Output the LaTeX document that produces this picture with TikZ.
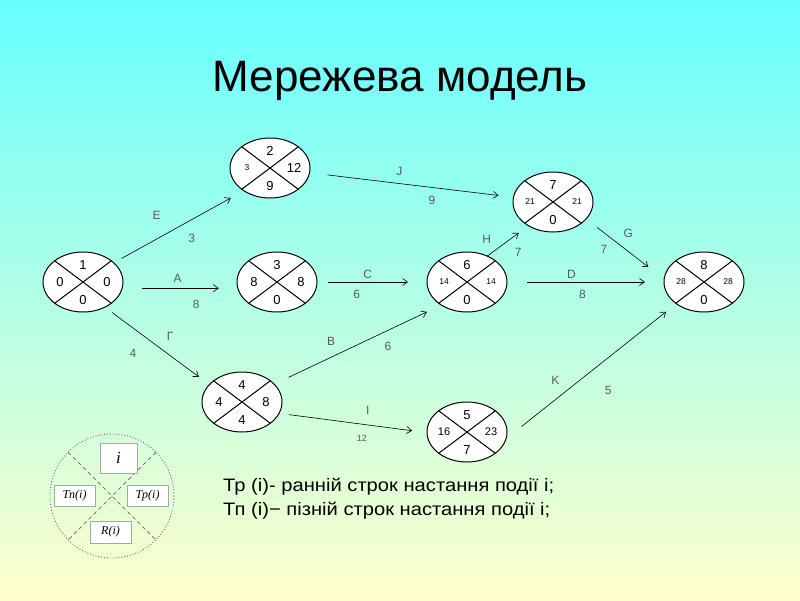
\documentclass[tikz,border=0pt]{standalone}
\usepackage{fontspec}
\setmainfont{Liberation Sans}
\newfontfamily\legendfont{Liberation Serif}
\newfontfamily\notefont[FakeStretch=1.12]{Liberation Sans}
\usetikzlibrary{arrows.meta,calc,shapes.geometric,shadows}
\definecolor{bgtop}{RGB}{102,255,255}
\definecolor{bgbottom}{RGB}{255,255,204}
\newcommand{\smallnum}[1]{{\fontsize{8.5}{9}\selectfont #1}}
\newcommand{\midnum}[1]{{\fontsize{11}{12}\selectfont #1}}

\begin{document}
\begin{tikzpicture}[
  x=1pt, y=-1pt,
  event/.style={ellipse, draw=black, line width=1pt, fill=white,
    minimum width=80pt, minimum height=60pt, inner sep=0pt, outer sep=0pt},
  quarter/.style={line width=1pt},
  num/.style={font=\fontsize{13}{14}\selectfont, inner sep=0pt},
  arrow/.style={-{Straight Barb[length=5pt,width=7pt]}, line width=0.6pt},
  lbl/.style={font=\fontsize{12}{12}\selectfont, text=black!65, inner sep=0pt},
  titletext/.style={font=\fontsize{44}{50}\selectfont, inner sep=0pt},
  note/.style={font=\notefont\fontsize{18}{24}\selectfont, align=left, inner sep=0pt},
  legendring/.style={circle, draw=black!60, dotted, line width=0.9pt,
    minimum size=124pt, inner sep=0pt, outer sep=0pt},
  legendbox/.style={draw=black!35, fill=white,
    drop shadow={shadow xshift=0.8pt, shadow yshift=-0.8pt, fill=black!40, opacity=1},
    inner sep=0pt, font=\legendfont\itshape\fontsize{12}{12}\selectfont,
    minimum width=41pt, minimum height=21pt}
]

% background
\shade[top color=bgtop, bottom color=bgbottom] (0,0) rectangle (800,600);

\node[titletext, anchor=base] (title) at (400,91) {Мережева модель};

% events: name / x / y / top / left / right / bottom
\foreach \nm/\px/\py/\ntop/\nlft/\nrgt/\nbtm in {
  n1/83/282/1/0/0/0,
  n2/270/168/2/\smallnum{3}/12/9,
  n3/277/282/3/8/8/0,
  n4/553/202/7/\smallnum{21}/\smallnum{21}/0,
  n5/467/282/6/\smallnum{14}/\smallnum{14}/0,
  n6/704/282/8/\smallnum{28}/\smallnum{28}/0,
  n7/242/402/4/4/8/4,
  n8/467/432/5/\midnum{16}/\midnum{23}/7}{
  \node[event] (\nm) at (\px,\py) {};
  \draw[quarter] (\nm.north west) -- (\nm.south east)
                 (\nm.north east) -- (\nm.south west);
  \node[num] (\nm-t) at ($(\nm)+(0,-17)$) {\ntop};
  \node[num] (\nm-l) at ($(\nm)+(-23,0)$) {\nlft};
  \node[num] (\nm-r) at ($(\nm)+(24,0)$) {\nrgt};
  \node[num] (\nm-b) at ($(\nm)+(0,18)$) {\nbtm};
}

% activities
\draw[arrow, shorten <=9pt, shorten >=15pt] (n1.32) --
  node[lbl, pos=0.33, yshift=24pt] {E} node[lbl, pos=0.6, yshift=-19pt] {3} (n2.221);
\draw[arrow, shorten <=20pt, shorten >=19pt] (n1.-9) --
  node[lbl, pos=0.48, yshift=10pt] {A} node[lbl, pos=0.64, yshift=-16pt] {8} (n3.189);
\draw[arrow, shorten <=9pt, shorten >=13pt] (n1.311) --
  node[lbl, pos=0.625, yshift=19pt] {Г} node[lbl, pos=0.27, yshift=-25pt] {4} (n7.152);
\draw[arrow, shorten <=18pt, shorten >=15pt] (n2) --
  node[lbl, pos=0.44, yshift=12pt] {J} node[lbl, pos=0.6, yshift=-13pt] {9} (n4);
\draw[arrow, shorten <=11pt, shorten >=19pt] (n3) --
  node[lbl, pos=0.46, yshift=8pt] {C} node[lbl, pos=0.36, yshift=-12pt] {6} (n5);
\draw[arrow, shorten >=12pt] (n5.52) --
  node[lbl, pos=0.3, xshift=-13pt, yshift=8pt] {H} node[lbl, pos=0.75, yshift=-19pt] {7} (n4.224);
\draw[arrow, shorten <=14pt, shorten >=20pt] (n4.333) --
  node[lbl, pos=0.54, yshift=18pt] {G} node[lbl, pos=0.23, yshift=-17pt] {7} (n6.176);
\draw[arrow, shorten <=20pt, shorten >=19pt] (n5) --
  node[lbl, pos=0.41, yshift=8pt] {D} node[lbl, pos=0.48, yshift=-12pt] {8} (n6);
\draw[arrow, shorten <=16pt, shorten >=16pt] (n7.29) --
  node[lbl, pos=0.34, yshift=16pt] {B} node[lbl, pos=0.68, yshift=-16pt] {6} (n5.222);
\draw[arrow, shorten <=10pt, shorten >=15pt] (n7.343) --
  node[lbl, pos=0.6, yshift=15pt] {I} node[lbl, pos=0.56, yshift=-14pt, font=\fontsize{9}{9}\selectfont] {12} (n8.181);
\draw[arrow, shorten <=20pt, shorten >=13pt] (n8.-10) --
  node[lbl, pos=0.29, yshift=19pt] {K} node[lbl, pos=0.6, yshift=-33pt] {5} (n6.218);

% legend
\node[legendring] (ring) at (112,496) {};
\draw[dashed, dash pattern=on 4pt off 3pt, black!60, line width=0.7pt]
  (ring.north west) -- (ring.south east) (ring.north east) -- (ring.south west);
\node[legendbox, minimum width=37pt, minimum height=30pt,
  font=\legendfont\itshape\fontsize{17}{17}\selectfont] (idx) at (118.5,458) {i};
\node[legendbox] (tn) at (74.5,495.5) {Tn(i)};
\node[legendbox] (tp) at (147.5,495.5) {Tp(i)};
\node[legendbox, minimum height=22pt] (ri) at (110.5,532) {R(i)};

\node[note, anchor=north west] (note) at (223,478)
  {Тр (і)- ранній строк настання події і;\\Тп (і)− пізній строк настання події і;};

\end{tikzpicture}
\end{document}
